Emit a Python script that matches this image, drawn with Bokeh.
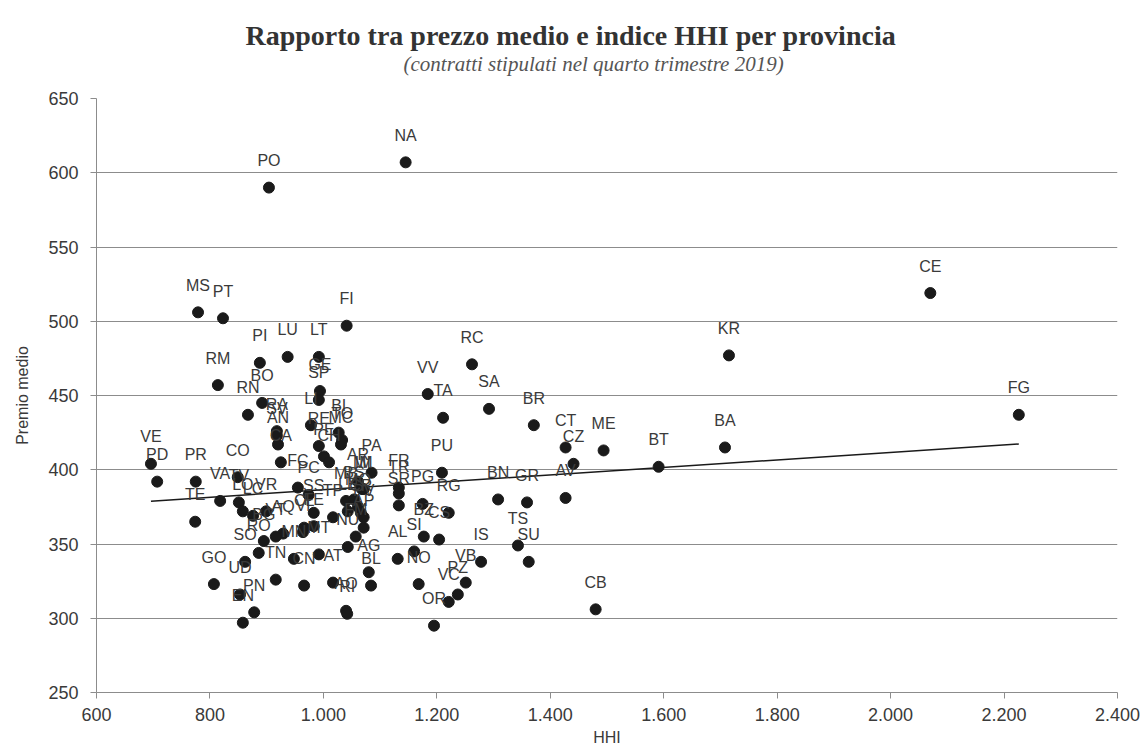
import numpy as np
from bokeh.plotting import figure
from bokeh.models import ColumnDataSource, LabelSet, Title, FixedTicker, Range1d
from bokeh.core.properties import value
from bokeh.embed import file_html
from bokeh.resources import INLINE

province = ["NA", "PO", "CE", "MS", "PT", "FI", "KR", "RC", "PI", "LU",
            "LT", "RM", "BO", "RN", "GE", "SP", "VV", "TA", "SA", "BR",
            "CT", "ME", "CZ", "BT", "BA", "FG", "AV", "BN", "GR", "TS",
            "SU", "IS", "CB", "VB", "PZ", "VC", "OR", "NO", "AL", "SI",
            "BZ", "CS", "PG", "RG", "PU", "FR", "TR", "SR", "PA", "MI",
            "TO", "LI", "RA", "AN", "CA", "SV", "VE", "PD", "PR", "CO",
            "TE", "VA", "TV", "LO", "LC", "VR", "FC", "PC", "AQ", "VT",
            "RO", "BG", "SO", "MN", "TN", "CN", "AT", "GO", "UD", "EN",
            "PN", "BL", "AG", "AO", "RI", "SS", "VI", "RE", "MC", "PE",
            "CH", "MB", "AR", "BS", "MO", "CR", "PV", "LE", "TP", "CL",
            "FE", "AP", "FM", "NU", "MT", "IM", "BI"]

hhi = [1145, 904, 2070, 779, 823, 1041, 1715, 1262, 888, 937,
       992, 814, 892, 867, 994, 992, 1184, 1211, 1292, 1371,
       1427, 1494, 1441, 1591, 1708, 2226, 1427, 1308, 1359, 1343,
       1362, 1278, 1480, 1251, 1237, 1221, 1195, 1168, 1131, 1160,
       1177, 1204, 1175, 1221, 1209, 1133, 1133, 1133, 1085, 1068,
       1033, 978, 918, 920, 925, 918, 696, 707, 775, 849,
       774, 818, 851, 858, 876, 899, 955, 974, 929, 916,
       886, 895, 862, 948, 916, 966, 1017, 807, 853, 858,
       878, 1084, 1080, 1040, 1042, 983, 964, 992, 1031, 1001,
       1010, 1040, 1061, 1054, 1061, 1066, 1071, 1043, 1017, 966,
       983, 1071, 1057, 1043, 992, 1071, 1027]

premio = [607, 590, 519, 506, 502, 497, 477, 471, 472, 476,
          476, 457, 445, 437, 453, 447, 451, 435, 441, 430,
          415, 413, 404, 402, 415, 437, 381, 380, 378, 349,
          338, 338, 306, 324, 316, 311, 295, 323, 340, 345,
          355, 353, 377, 371, 398, 388, 384, 376, 398, 387,
          420, 430, 426, 417, 405, 423, 404, 392, 392, 395,
          365, 379, 378, 372, 369, 372, 388, 383, 357, 355,
          344, 352, 338, 340, 326, 322, 324, 323, 316, 297,
          304, 322, 331, 305, 303, 371, 358, 416, 417, 409,
          405, 379, 392, 380, 375, 371, 368, 372, 368, 361,
          362, 361, 355, 348, 343, 387, 425]

x_ticks = [600, 800, 1000, 1200, 1400, 1600, 1800, 2000, 2200, 2400]
y_ticks = [250, 300, 350, 400, 450, 500, 550, 600, 650]

title_text = "Rapporto tra prezzo medio e indice HHI per provincia"
subtitle_text = "(contratti stipulati nel quarto trimestre 2019)"
x_label = "HHI"
y_label = "Premio medio"

# linear trendline computed from the data
slope, intercept = np.polyfit(hhi, premio, 1)
trend_x = [min(hhi), max(hhi)]
trend_y = [slope * v + intercept for v in trend_x]

src = ColumnDataSource(dict(hhi=hhi, premio=premio, prov=province))

p = figure(width=1141, height=748, output_backend="svg", toolbar_location=None,
           x_range=Range1d(600, 2400), y_range=Range1d(250, 650),
           min_border_left=96, min_border_right=24, min_border_top=98,
           min_border_bottom=55)
p.background_fill_color = "white"
p.border_fill_color = "white"
p.outline_line_color = None

grey = "#8c8c8c"
p.xgrid.visible = False
p.ygrid.grid_line_color = grey
p.ygrid.grid_line_width = 1

for ax in (p.xaxis[0], p.yaxis[0]):
    ax.axis_line_color = grey
    ax.major_tick_line_color = grey
    ax.minor_tick_line_color = None
    ax.major_tick_in = 0
    ax.major_tick_out = 6
    ax.major_label_text_font = "Liberation Sans"
    ax.major_label_text_font_size = "18px"
    ax.major_label_text_color = "#3a3a3a"
    ax.axis_label_text_font = "Liberation Sans"
    ax.axis_label_text_font_size = "16px"
    ax.axis_label_text_font_style = "normal"
    ax.axis_label_text_color = "#3a3a3a"

p.xaxis.ticker = FixedTicker(ticks=x_ticks)
p.yaxis.ticker = FixedTicker(ticks=y_ticks)
p.xaxis.major_label_overrides = {v: f"{v:,}".replace(",", ".") for v in x_ticks}
p.xaxis.axis_label = x_label
p.yaxis.axis_label = y_label
p.xaxis.major_label_standoff = 9
p.xaxis.axis_label_standoff = 5
p.yaxis.major_label_standoff = 12
p.yaxis.axis_label_standoff = 14

p.line(trend_x, trend_y, line_color="#1a1a1a", line_width=1.5)
p.scatter("hhi", "premio", source=src, size=11, fill_color="#1a1a1a",
          line_color="#1a1a1a")

labels = LabelSet(x="hhi", y="premio", text="prov", source=src,
                  text_align="center", text_baseline="middle", y_offset=27,
                  text_font=value("Liberation Sans"), text_font_size="16px",
                  text_color="#3a3a3a")
p.add_layout(labels)

# subtitle first (closest to the plot), then the main title
sub = Title(text=subtitle_text, align="left", offset=307,
            text_font="Liberation Serif", text_font_style="italic",
            text_font_size="21px", text_color="#555555", standoff=45)
p.add_layout(sub, "above")
ttl = Title(text=title_text, align="left", offset=149,
            text_font="Liberation Serif", text_font_style="bold",
            text_font_size="28px", text_color="#333333", standoff=-47)
p.add_layout(ttl, "above")

open("out.html", "w").write(file_html(p, INLINE))
